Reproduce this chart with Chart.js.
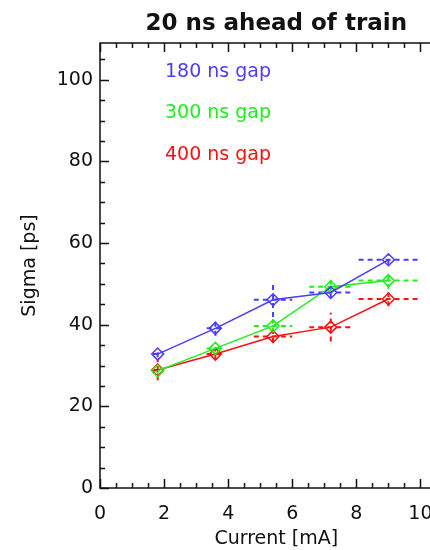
<!DOCTYPE html>
<html>
<head>
<meta charset="utf-8">
<script src="https://cdn.jsdelivr.net/npm/chart.js@4"></script>
<style>
  html, body { margin: 0; padding: 0; background: #fff; overflow: hidden; }
  #wrap { width: 460px; height: 550px; }
</style>
</head>
<body>
<div id="wrap"><canvas id="chart" width="460" height="550"></canvas></div>
<script>
// beam current (mA) and its error
const current = [1.8, 3.6, 5.4, 7.2, 9.0];
const currentErr = [0.15, 0.27, 0.6, 0.67, 0.93];

const gapLabels = ["180 ns gap", "300 ns gap", "400 ns gap"];
const sigma180 = [32.8, 39.1, 46.1, 47.9, 55.9];
const sigma300 = [28.7, 34.2, 39.7, 49.3, 50.8];
const sigma400 = [28.9, 32.8, 37.1, 39.4, 46.3];
const err180 = [0.8, 1.8, 4.2, 1.5, 1.2];
const err300 = [1.0, 1.0, 1.6, 1.7, 2.0];
const err400 = [2.5, 1.4, 1.6, 3.5, 1.8];

const xTicks = [0, 2, 4, 6, 8, 10];
const yTicks = [0, 20, 40, 60, 80, 100];

const colors = ["#4b3cff", "#1ef01e", "#ff1010"];
const font = '"DejaVu Sans"';
const ink = "#111";

const series = [sigma180, sigma300, sigma400];
const errors = [err180, err300, err400];

const datasets = series.map((vals, i) => ({
  label: gapLabels[i],
  data: vals.map((v, j) => ({ x: current[j], y: v })),
  yErr: errors[i],
  borderColor: colors[i],
  borderWidth: 1.5,
  pointStyle: "rectRot",
  pointRadius: 6,
  pointBorderWidth: 1.5,
  pointBackgroundColor: "rgba(0,0,0,0)",
  pointBorderColor: colors[i],
  tension: 0,
  fill: false,
}));

// dashed error bars in x and y
const errorBars = {
  id: "errorBars",
  beforeDatasetsDraw(chart) {
    const { ctx, scales } = chart;
    ctx.save();
    ctx.lineWidth = 2;
    ctx.setLineDash([5, 4]);
    chart.data.datasets.forEach((ds) => {
      ctx.strokeStyle = ds.borderColor;
      ds.data.forEach((p, j) => {
        const px = scales.x.getPixelForValue(p.x);
        const py = scales.y.getPixelForValue(p.y);
        ctx.beginPath();
        ctx.moveTo(scales.x.getPixelForValue(p.x - currentErr[j]), py);
        ctx.lineTo(scales.x.getPixelForValue(p.x + currentErr[j]), py);
        ctx.moveTo(px, scales.y.getPixelForValue(p.y - ds.yErr[j]));
        ctx.lineTo(px, scales.y.getPixelForValue(p.y + ds.yErr[j]));
        ctx.stroke();
      });
    });
    ctx.restore();
  },
};

// box frame, inward ticks, text legend
const frame = {
  id: "frame",
  afterDraw(chart) {
    const { ctx, chartArea: a, scales } = chart;
    ctx.save();
    ctx.strokeStyle = ink;
    ctx.lineWidth = 1.5;
    ctx.strokeRect(a.left, a.top, a.width, a.height);
    ctx.beginPath();
    for (let v = 0; v <= scales.x.max; v += 0.5) {
      const px = Math.round(scales.x.getPixelForValue(v)) + 0.5;
      const len = xTicks.includes(v) ? 9 : 5;
      ctx.moveTo(px, a.bottom);
      ctx.lineTo(px, a.bottom - len);
      ctx.moveTo(px, a.top);
      ctx.lineTo(px, a.top + len);
    }
    for (let v = 0; v <= scales.y.max; v += 5) {
      const py = Math.round(scales.y.getPixelForValue(v)) + 0.5;
      const len = yTicks.includes(v) ? 9 : 5;
      ctx.moveTo(a.left, py);
      ctx.lineTo(a.left + len, py);
    }
    ctx.stroke();

    ctx.font = "19px " + font;
    ctx.textBaseline = "middle";
    ctx.textAlign = "left";
    gapLabels.forEach((t, i) => {
      ctx.fillStyle = colors[i];
      ctx.fillText(t, a.left + 65, a.top + 29 + i * 41.5);
    });
    ctx.restore();
  },
};

new Chart(document.getElementById("chart"), {
  type: "line",
  data: { datasets },
  options: {
    responsive: false,
    animation: false,
    layout: { padding: 0 },
    plugins: {
      legend: { display: false },
      tooltip: { enabled: false },
      title: {
        display: true,
        text: "20 ns ahead of train",
        fullSize: false,
        color: ink,
        font: { family: font, size: 23, weight: "bold" },
        padding: { top: 10.5, bottom: 4.9 },
      },
    },
    scales: {
      x: {
        type: "linear",
        min: 0,
        max: 11,
        grid: { display: false, drawTicks: false },
        border: { display: false },
        afterBuildTicks: (s) => { s.ticks = xTicks.map((v) => ({ value: v })); },
        afterFit: (s) => { s.height = 62; },
        ticks: { padding: 15, color: ink, maxRotation: 0, font: { family: font, size: 19 } },
        title: {
          display: true,
          text: "Current [mA]",
          color: ink,
          font: { family: font, size: 19 },
          padding: { top: 2.6, bottom: 0 },
        },
      },
      y: {
        min: 0,
        max: 109,
        grid: { display: false, drawTicks: false },
        border: { display: false },
        afterBuildTicks: (s) => { s.ticks = yTicks.map((v) => ({ value: v })); },
        afterFit: (s) => { s.width = 100; },
        ticks: { padding: 7, color: ink, font: { family: font, size: 19 } },
        title: {
          display: true,
          text: "Sigma [ps]",
          color: ink,
          font: { family: font, size: 19 },
          padding: { top: 18.6, bottom: 0 },
        },
      },
    },
  },
  plugins: [errorBars, frame],
});
</script>
</body>
</html>
